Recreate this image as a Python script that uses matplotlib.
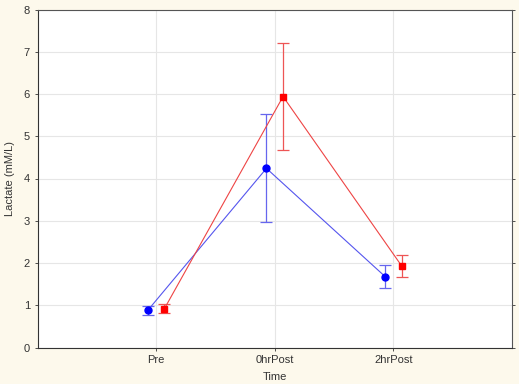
import matplotlib
matplotlib.use("Agg")
import matplotlib.pyplot as plt
import numpy as np

categories = ["Pre", "0hrPost", "2hrPost"]
blue_mean = [0.88, 4.24, 1.68]
blue_err = [0.11, 1.28, 0.27]
red_mean = [0.92, 5.94, 1.93]
red_err = [0.10, 1.27, 0.27]

plt.rcParams['font.family'] = ['Liberation Sans', 'DejaVu Sans']
fig = plt.figure(figsize=(5.19, 3.84), dpi=100, facecolor='#fdf9ec')
ax = fig.add_axes([37.5/519, 1-347.5/384, (512-37.5)/519, (347.5-9.5)/384])
ax.set_facecolor('white')

x = np.arange(1, len(categories) + 1)
off = 0.07
ax.errorbar(x - off, blue_mean, yerr=blue_err, color='#5555ee', ecolor='#6666ee',
            marker='o', markersize=5, mfc='#0000ff', mec='#0000ff', lw=0.8,
            elinewidth=0.9, capsize=4.2, capthick=0.9, zorder=3)
ax.errorbar(x + off, red_mean, yerr=red_err, color='#ee4444', ecolor='#ee5555',
            marker='s', markersize=5, mfc='#ff0000', mec='#ff0000', lw=0.8,
            elinewidth=0.9, capsize=4.2, capthick=0.9, zorder=3)

ax.set_xlim(0, 4)
ax.set_ylim(0, 8)
ax.set_xticks(x)
ax.set_xticklabels(categories)
ax.set_yticks(range(0, 9))
ax.grid(True, color='#e6e6e6', lw=0.8, zorder=0)
ax.set_axisbelow(True)
ax.tick_params(axis='both', labelsize=8, length=2.5, width=0.6, colors='#333333', pad=3)
ax.tick_params(axis='y', right=True, direction='out')
for s in ax.spines.values():
    s.set_linewidth(0.8)
    s.set_color('#555555')
ax.spines['left'].set_color('#333333')
ax.spines['bottom'].set_color('#333333')
ax.set_xlabel("Time", fontsize=8, color='#333333', labelpad=5)
ax.set_ylabel("Lactate (mM/L)", fontsize=8, color='#333333', labelpad=6)
fig.savefig("out.png", dpi=100, facecolor=fig.get_facecolor())
